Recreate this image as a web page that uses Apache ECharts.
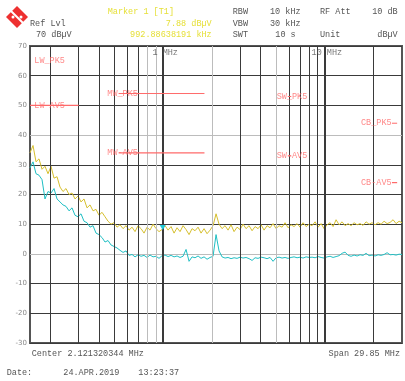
<!DOCTYPE html>
<html>
<head>
<meta charset="utf-8">
<script src="https://cdn.jsdelivr.net/npm/echarts@6/dist/echarts.min.js"></script>
<style>html,body{margin:0;padding:0;background:#fff}#c{width:405px;height:381px}</style>
</head>
<body>
<div id="c"></div>
<script>
// ---- data ----
const freqMHz = [0.15,0.1566,0.1634,0.1705,0.178,0.1857,0.1939,0.2023,0.2112,0.2204,
0.23,0.24,0.2505,0.2615,0.2729,0.2848,0.2972,0.3102,0.3238,0.3379,
0.3527,0.3681,0.3841,0.4009,0.4184,0.4367,0.4558,0.4757,0.4965,0.5181,
0.5408,0.5644,0.589,0.6147,0.6416,0.6696,0.6988,0.7293,0.7612,0.7944,
0.8291,0.8653,0.9031,0.9425,0.9837,1.0267,1.0715,1.1183,1.1671,1.2181,
1.2713,1.3268,1.3847,1.4452,1.5083,1.5741,1.6429,1.7146,1.7895,1.8676,
1.9491,2.0343,2.1231,2.2158,2.3125,2.4135,2.5189,2.6289,2.7437,2.8635,
2.9886,3.119,3.2552,3.3974,3.5457,3.7005,3.8621,4.0307,4.2067,4.3904,
4.5821,4.7822,4.991,5.2089,5.4363,5.6738,5.9214,6.18,6.4499,6.7316,
7.0254,7.3322,7.6524,7.9865,8.3352,8.6993,9.0791,9.4755,9.8892,10.321,
10.772,11.242,11.733,12.245,12.78,13.338,13.92,14.528,15.161,15.823,
16.514,17.235,17.988,18.773,19.593,20.448,21.341,22.273,23.245,24.26,
25.319,26.424,27.579,28.782,30.0];

const peakTrace = [34,36.5,31,32,28.5,29.5,27,29.5,25.5,26,
22.5,21,22,20,20.5,18.5,19.5,17.5,18.5,15.5,
16.5,14.5,15,13,14,12.5,11,10,10.5,9,
9.8,8.5,9.5,8,9,7.5,9.5,8.5,7,9,
8,10,8.5,7.5,8.2,9.5,8,9.2,7,8.8,
7.5,9.5,8.2,6.5,8.5,7.8,9,7,8.5,6.8,
8,9.5,13.5,10,8.5,9.5,8,9.8,7.5,9,
8.2,10,8.5,9.5,7.8,9.2,8.5,9.8,8,9.5,
8.8,10.2,8.5,9.5,9,10.5,8.8,9.8,9.2,10.2,
9,10.5,9.2,10,9.5,10.8,9,10.2,8.5,9.8,
10.5,9.2,11.5,9.8,10.8,9.5,10.2,9.5,10.5,9.8,
10.2,9.6,10.8,10,10.5,9.8,10.5,10,11,10.2,
10.6,11.5,10.2,11,10.5];

const avgTrace = [29,31,27,26.5,25,18.5,21,20.5,22,18.5,
17.5,16.5,16,14.5,15.5,13,12.5,13.5,11,10.5,
9,9.5,7,6.5,5.5,4,4.5,3,2.5,2,
1.2,0.5,1,-0.5,-0.2,-1,-0.3,-0.8,-0.5,-1.2,
-0.4,-1,-0.8,-1.5,-0.6,-0.4,-0.9,-0.5,-1,-0.7,
-1.2,-0.8,1.5,-2.5,-1,-1.3,-0.7,-1.5,-1,-1.8,
-1.2,-0.8,6.5,1,-1,-1.4,-1.2,-1.6,-1.3,-1.5,
-1.1,-1.4,-1.2,-1.6,-2.2,-1.3,-1.5,-1.1,-1.3,-1.6,
-1.2,-2.5,-1.3,-1.1,-1.4,-1.2,-1.5,-1.2,-1,-1.3,
-1.1,-1.4,-1,-1.2,-1.1,-1.3,-0.9,-1.2,-1.4,-1,
-0.8,-1.2,-0.9,-0.6,0.2,0.6,-0.5,-0.8,-0.4,-0.7,
-0.3,-0.5,0.2,-0.6,-0.4,-0.7,-0.3,-0.5,-0.2,0.4,
-0.3,-0.2,-0.4,-0.1,-0.2];

const bandNames = ['LW','MW','SW','CB'];
const bandStartMHz = [0.15,0.53,5.9,26];
const bandEndMHz = [0.3,1.8,6.2,28];
const peakLimit = [70,54,53,44];
const avgLimit = [50,34,33,24];
const peakLabels = ['LW_PK5','MW_PK5','SW_PK5','CB_PK5'];
const avgLabels = ['LW-AV5','MW-AV5','SW-AV5','CB-AV5'];

const yTicks = [-30,-20,-10,0,10,20,30,40,50,60,70];
const gridFreqs = [0.2,0.3,0.4,0.5,0.6,0.7,0.8,0.9,2,3,4,5,6,7,8,9,20];
const lightGridFreqs = [0.8,0.9,2,5];
const decadeFreqs = [1,10];
const decadeLabels = ['1 MHz','10 MHz'];

const marker = {freq:0.99288638191, level:7.88};

// ---- layout / styles ----
const MONO = '"Liberation Mono", "DejaVu Sans Mono", monospace';
const FS = 8.5;
const TXT = '#555';
const YEL = '#e6e03a';
const RED = '#ff6a6a';
const GRID = '#3a3a3a';
const LIGHT = '#bcbcbc';

const chart = echarts.init(document.getElementById('c'), null, {renderer:'canvas'});

function txt(s, x, y, color, align) {
  return {type:'text', x:x, y:y, silent:true,
    style:{text:s, fill:color||TXT, font:FS+'px '+MONO, verticalAlign:'middle', align:align||'left'}};
}

const limitSeries = [];
bandNames.forEach((b,i)=>{
  if (i > 0) {
    limitSeries.push({type:'line', name:b+'pk', data:[[bandStartMHz[i],peakLimit[i]],[bandEndMHz[i],peakLimit[i]]],
      symbol:'none', silent:true, clip:false, lineStyle:{color:RED, width:1}, z:5});
  }
  limitSeries.push({type:'line', name:b+'av', data:[[bandStartMHz[i],avgLimit[i]],[bandEndMHz[i],avgLimit[i]]],
    symbol:'none', silent:true, clip:false, lineStyle:{color:RED, width:1.2}, z:5});
});

// label anchors (layout, data-space)
const labelAnchorX = [0.1595, 0.451, 5.035, 16.73];
const labelData = [];
bandNames.forEach((b,i)=>{
  labelData.push([labelAnchorX[i], i===0 ? 64.9 : peakLimit[i], peakLabels[i]]);
  labelData.push([labelAnchorX[i], avgLimit[i], avgLabels[i]]);
});

const gridMark = gridFreqs.map(f=>({xAxis:f, lineStyle:{color: lightGridFreqs.includes(f)?LIGHT:GRID, width:1, type:'solid'}}))
  .concat(decadeFreqs.map(f=>({xAxis:f, lineStyle:{color:'#3a3a3a', width:2, type:'solid'}})));

const option = {
  animation:false,
  backgroundColor:'#fff',
  grid:{left:30, top:46, width:372, height:297, show:true, borderColor:'#555', borderWidth:2, backgroundColor:'transparent'},
  xAxis:{type:'log', logBase:10, min:0.15, max:30, axisLine:{show:false}, axisTick:{show:false},
    axisLabel:{show:false}, splitLine:{show:false}},
  yAxis:{type:'value', min:-30, max:70, interval:10,
    axisLine:{show:false}, axisTick:{show:false},
    axisLabel:{color:'#888', fontSize:7, fontFamily:'"DejaVu Sans", sans-serif', margin:3},
    splitLine:{show:true, lineStyle:{width:1, color: yTicks.map(v=> (v===40||v===0)?LIGHT:GRID)}}},
  series:[
    {type:'line', name:'grid', data:[], silent:true, z:1,
      markLine:{silent:true, symbol:'none', label:{show:false}, animation:false, data:gridMark}},
    {type:'scatter', name:'decades', silent:true, symbolSize:0, z:6,
      data: decadeFreqs.map((f,i)=>[f, 67.8, decadeLabels[i]]),
      label:{show:true, position:'inside', offset:[2,0], formatter:p=>p.data[2], color:TXT, fontSize:FS, fontFamily:MONO}},
    ...limitSeries,
    {type:'scatter', name:'limitLabels', silent:true, symbolSize:0, z:6, data:labelData,
      label:{show:true, position:'right', distance:0, formatter:p=>p.data[2], color:RED, fontSize:FS, fontFamily:MONO}},
    {type:'line', name:'peak', data:freqMHz.map((f,i)=>[f,peakTrace[i]]), symbol:'none', z:3,
      lineStyle:{color:'#d6bf2e', width:1},
      markPoint:{silent:true, symbol:'triangle', symbolRotate:180, symbolSize:[6,5], symbolOffset:[0,-3],
        itemStyle:{color:'#20c8d8'}, label:{show:false},
        data:[{coord:[marker.freq, marker.level]}]}},
    {type:'line', name:'avg', data:freqMHz.map((f,i)=>[f,avgTrace[i]]), symbol:'none', z:3,
      lineStyle:{color:'#1fbfc4', width:1}}
  ],
  graphic:[
    {type:'polygon', silent:true, shape:{points:[[17,6],[28,17],[17,28],[6,17]]}, style:{fill:'#ee3030'}},
    {type:'line', silent:true, shape:{x1:11,y1:11,x2:23,y2:23}, style:{stroke:'#fff', lineWidth:2}},
    {type:'circle', silent:true, shape:{cx:13,cy:17,r:1.5}, style:{fill:'#fff'}},
    {type:'circle', silent:true, shape:{cx:21,cy:17,r:1.5}, style:{fill:'#fff'}},
    txt('Marker 1 [T1]', 107.7, 11.7, YEL),
    txt('RBW', 232.7, 11.7), txt('10 kHz', 270, 11.7), txt('RF Att', 320, 11.7), txt('10 dB', 397.7, 11.7, TXT, 'right'),
    txt('Ref Lvl', 30, 23.3), txt('7.88 dBµV', 211.7, 23.3, YEL, 'right'),
    txt('VBW', 232.7, 23.3), txt('30 kHz', 270, 23.3),
    txt('70 dBµV', 36, 35), txt('992.88638191 kHz', 211.7, 35, YEL, 'right'),
    txt('SWT', 232.7, 35), txt('10 s', 275.3, 35), txt('Unit', 320, 35), txt('dBµV', 397.7, 35, TXT, 'right'),
    txt('Center 2.121320344 MHz', 31.7, 353.3),
    txt('Span 29.85 MHz', 400, 353.3, TXT, 'right'),
    txt('Date:', 6.7, 372.7), txt('24.APR.2019', 63.3, 372.7), txt('13:23:37', 138.3, 372.7)
  ]
};
chart.setOption(option);
</script>
</body>
</html>
